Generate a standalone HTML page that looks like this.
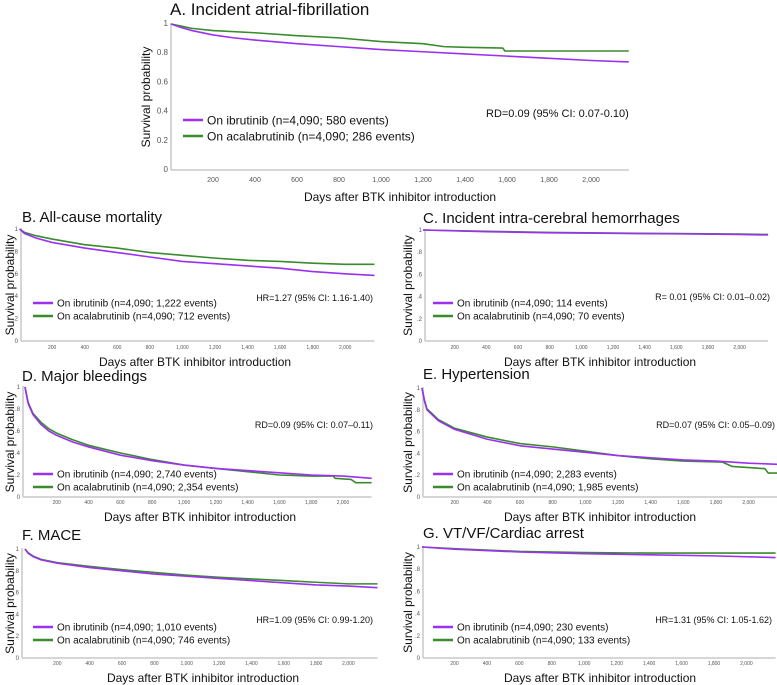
<!DOCTYPE html>
<html><head><meta charset="utf-8"><style>
body{margin:0;background:#fff;width:777px;height:685px;overflow:hidden;font-family:"Liberation Sans",sans-serif}
svg{display:block}
</style></head><body>
<svg id="c" width="777" height="685"></svg>
<script>
const ticksX=[200,400,600,800,1000,1200,1400,1600,1800,2000];
const tickXLabels=["200","400","600","800","1,000","1,200","1,400","1,600","1,800","2,000"];
const ticksY=[0,0.2,0.4,0.6,0.8,1];
const tickYLabelsA=["0","0.2","0.4","0.6","0.8","1"];
const tickYLabelsS=["0",".2",".4",".6",".8","1"];
const aIbr=[[0,1],[50,0.975],[100,0.955],[200,0.925],[300,0.905],[400,0.89],[600,0.865],[800,0.845],[1000,0.825],[1200,0.81],[1400,0.795],[1600,0.78],[1800,0.765],[2000,0.75],[2180,0.74]];
const aAca=[[0,1],[50,0.985],[100,0.97],[200,0.955],[400,0.94],[600,0.92],[800,0.905],[1000,0.88],[1200,0.865],[1300,0.845],[1400,0.84],[1580,0.835],[1590,0.815],[2180,0.815]];
const bIbr=[[0,1],[30,0.96],[100,0.92],[200,0.88],[400,0.83],[600,0.79],[800,0.75],[1000,0.71],[1200,0.69],[1400,0.67],[1600,0.65],[1800,0.62],[2000,0.6],[2180,0.585]];
const bAca=[[0,1],[30,0.97],[100,0.94],[200,0.91],[400,0.86],[600,0.83],[800,0.79],[1000,0.765],[1200,0.74],[1400,0.72],[1600,0.71],[1800,0.695],[2000,0.685],[2180,0.685]];
const cIbr=[[0,1],[400,0.985],[800,0.975],[1200,0.97],[1600,0.965],[2000,0.96],[2180,0.955]];
const cAca=[[0,1],[400,0.988],[800,0.978],[1200,0.972],[1600,0.968],[2000,0.963],[2180,0.96]];
const dIbr=[[0,1],[10,0.92],[20,0.85],[50,0.75],[100,0.66],[150,0.6],[200,0.56],[300,0.5],[400,0.455],[600,0.38],[800,0.33],[1000,0.29],[1200,0.26],[1400,0.24],[1600,0.22],[1800,0.2],[2000,0.19],[2180,0.17]];
const dAca=[[0,1],[10,0.93],[20,0.86],[50,0.76],[100,0.68],[150,0.62],[200,0.58],[300,0.52],[400,0.47],[600,0.4],[800,0.34],[1000,0.29],[1200,0.26],[1400,0.23],[1600,0.2],[1800,0.19],[1940,0.19],[1950,0.17],[2050,0.16],[2080,0.13],[2180,0.13]];
const eIbr=[[0,1],[15,0.88],[30,0.8],[100,0.7],[200,0.62],[400,0.53],[600,0.47],[800,0.44],[1000,0.41],[1200,0.38],[1400,0.36],[1600,0.34],[1800,0.33],[2000,0.31],[2180,0.3]];
const eAca=[[0,1],[15,0.89],[30,0.81],[100,0.71],[200,0.63],[400,0.55],[600,0.49],[800,0.46],[1000,0.42],[1200,0.38],[1400,0.35],[1600,0.33],[1840,0.32],[1900,0.28],[2000,0.27],[2100,0.26],[2120,0.22],[2180,0.22]];
const fIbr=[[0,1],[20,0.96],[50,0.93],[100,0.9],[200,0.87],[400,0.83],[600,0.8],[800,0.77],[1000,0.75],[1200,0.73],[1400,0.71],[1600,0.69],[1800,0.67],[2000,0.66],[2180,0.645]];
const fAca=[[0,1],[20,0.965],[50,0.935],[100,0.905],[200,0.875],[400,0.84],[600,0.81],[800,0.785],[1000,0.76],[1200,0.74],[1400,0.725],[1600,0.71],[1800,0.695],[2000,0.68],[2180,0.68]];
const gIbr=[[0,1],[200,0.98],[600,0.955],[1000,0.94],[1400,0.93],[1800,0.92],[2180,0.905]];
const gAca=[[0,1],[200,0.985],[600,0.96],[1000,0.95],[1400,0.945],[2180,0.945]];

const panels=[
 {id:'a',title:'A.   Incident atrial-fibrillation',tx:170,ty:15,tf:17,ax:171,x0:171,ppd:0.21,end:2180,y1:24,y0:170,tly:182,tfs:7,xl:'Days after BTK inhibitor introduction',xlx:400,xly:201,xlf:12,yt:146,ytf:12,leg:[120,136],lx:183,lf:12,stat:'RD=0.09 (95% CI: 0.07-0.10)',sx:486,sy:117,sa:'start',sf:11,ibr:aIbr,aca:aAca,lab:['On ibrutinib (n=4,090; 580 events)','On acalabrutinib (n=4,090; 286 events)'],ylab:tickYLabelsA},
 {id:'b',title:'B. All-cause mortality',tx:22,ty:222,tf:15,ax:21,x0:19.6,ppd:0.1628,end:2180,y1:229,y0:341,tly:349,tfs:5,xl:'Days after BTK inhibitor introduction',xlx:195,xly:366,xlf:12,yt:10,ytf:12,leg:[303,316],lx:33,lf:10,stat:'HR=1.27 (95% CI: 1.16-1.40)',sx:373,sy:301,sa:'end',sf:9,ibr:bIbr,aca:bAca,lab:['On ibrutinib (n=4,090; 1,222 events)','On acalabrutinib (n=4,090; 712 events)'],ylab:tickYLabelsS},
 {id:'c',title:'C. Incident intra-cerebral hemorrhages',tx:423,ty:223,tf:15,ax:425,x0:423,ppd:0.1583,end:2180,y1:230,y0:341,tly:349,tfs:5,xl:'Days after BTK inhibitor introduction',xlx:600,xly:366,xlf:12,yt:408,ytf:12,leg:[303,316],lx:433,lf:10,stat:'R= 0.01 (95% CI: 0.01–0.02)',sx:770,sy:300,sa:'end',sf:9,ibr:cIbr,aca:cAca,lab:['On ibrutinib (n=4,090; 114 events)','On acalabrutinib (n=4,090; 70 events)'],ylab:tickYLabelsS},
 {id:'d',title:'D. Major bleedings',tx:22,ty:381,tf:15,ax:23,x0:25,ppd:0.159,end:2180,y1:387,y0:497,tly:504,tfs:5,xl:'Days after BTK inhibitor introduction',xlx:200,xly:521,xlf:12,yt:10,ytf:12,leg:[474,487],lx:33,lf:10,stat:'RD=0.09 (95% CI: 0.07–0.11)',sx:373,sy:428,sa:'end',sf:9,ibr:dIbr,aca:dAca,lab:['On ibrutinib (n=4,090; 2,740 events)','On acalabrutinib (n=4,090; 2,354 events)'],ylab:tickYLabelsS},
 {id:'e',title:'E. Hypertension',tx:423,ty:379,tf:15,ax:423,x0:422,ppd:0.1633,end:2180,y1:388,y0:497,tly:504,tfs:5,xl:'Days after BTK inhibitor introduction',xlx:600,xly:521,xlf:12,yt:408,ytf:12,leg:[474,487],lx:433,lf:10,stat:'RD=0.07 (95% CI: 0.05–0.09)',sx:775,sy:428,sa:'end',sf:9,ibr:eIbr,aca:eAca,lab:['On ibrutinib (n=4,090; 2,283 events)','On acalabrutinib (n=4,090; 1,985 events)'],ylab:tickYLabelsS},
 {id:'f',title:'F. MACE',tx:22,ty:540,tf:15,ax:22,x0:25,ppd:0.1617,end:2180,y1:549,y0:658,tly:665,tfs:5,xl:'Days after BTK inhibitor introduction',xlx:203,xly:682,xlf:12,yt:10,ytf:12,leg:[627,640],lx:33,lf:10,stat:'HR=1.09 (95% CI: 0.99-1.20)',sx:373,sy:623,sa:'end',sf:9,ibr:fIbr,aca:fAca,lab:['On ibrutinib (n=4,090; 1,010 events)','On acalabrutinib (n=4,090; 746 events)'],ylab:tickYLabelsS},
 {id:'g',title:'G. VT/VF/Cardiac arrest',tx:423,ty:538,tf:15,ax:423,x0:422,ppd:0.1622,end:2180,y1:547,y0:658,tly:665,tfs:5,xl:'Days after BTK inhibitor introduction',xlx:600,xly:682,xlf:12,yt:408,ytf:12,leg:[627,640],lx:433,lf:10,stat:'HR=1.31 (95% CI: 1.05-1.62)',sx:772,sy:623,sa:'end',sf:9,ibr:gIbr,aca:gAca,lab:['On ibrutinib (n=4,090; 230 events)','On acalabrutinib (n=4,090; 133 events)'],ylab:tickYLabelsS}
];
const NS='http://www.w3.org/2000/svg';
const svg=document.getElementById('c');
const PURPLE='#9b30f0',GREEN='#3a8a2e';
function mk(tag,attrs,parent,text){const e=document.createElementNS(NS,tag);for(const k in attrs)e.setAttribute(k,attrs[k]);if(text!==undefined)e.textContent=text;parent.appendChild(e);return e;}
panels.forEach(p=>{
  const g=mk('g',{},svg);
  
  
  const xs=d=>p.x0+d*p.ppd, ys=v=>p.y0-(p.y0-p.y1)*v;
  const t=mk('text',{x:p.tx,y:p.ty,'font-size':p.tf,fill:'#111'},g,p.title);
  
  
  const xe=xs(p.end);
  const axy=mk('line',{x1:p.ax,y1:p.y1-1,x2:p.ax,y2:p.y0,stroke:'#c8c8c8','stroke-width':1.5},g);
  
  
  const axx=mk('line',{x1:p.ax,y1:p.y0,x2:xe,y2:p.y0,stroke:'#c8c8c8','stroke-width':1.5},g);
  
  
  ticksY.forEach((v,i)=>{const tl=mk('text',{x:p.ax-3,y:ys(v)+2,'font-size':p.tfs+1,'text-anchor':'end',fill:'#555'},g,p.ylab[i]);
    
    });
  ticksX.forEach((d,i)=>{const tl=mk('text',{x:xs(d),y:p.tly,'font-size':p.tfs,'text-anchor':'middle',fill:'#555'},g,tickXLabels[i]);
    
    });
  const xl=mk('text',{x:p.xlx,y:p.xly,'font-size':p.xlf,'text-anchor':'middle',fill:'#111'},g,p.xl);
  
  
  const yc=(p.y0+p.y1)/2;
  const yt=mk('text',{x:p.yt,y:yc,'font-size':p.ytf,'text-anchor':'middle',fill:'#111',transform:`rotate(-90 ${p.yt} ${yc})`,dy:'0.35em'},g,'Survival probability');
  
  
  [[p.aca,GREEN,'acalabrutinib'],[p.ibr,PURPLE,'ibrutinib']].forEach(([s,c,n])=>{
    const pts=s.map(d=>xs(d[0])+','+ys(d[1]));
    const l=mk('polyline',{points:pts.join(' '),fill:'none',stroke:c,'stroke-width':1.6,'stroke-linejoin':'round'},g);
    
    
  });
  [[PURPLE,p.lab[0]],[GREEN,p.lab[1]]].forEach(([c,lab],i)=>{
    const ly=p.leg[i];
    const ll=mk('line',{x1:p.lx,y1:ly,x2:p.lx+20,y2:ly,stroke:c,'stroke-width':2.5},g);
    
    
    const lt=mk('text',{x:p.lx+24,y:ly+p.lf*0.36,'font-size':p.lf,fill:'#111'},g,lab);
    
    
  });
  const st=mk('text',{x:p.sx,y:p.sy,'font-size':p.sf,'text-anchor':p.sa,fill:'#111'},g,p.stat);
  
  
});
</script>
</body></html>
